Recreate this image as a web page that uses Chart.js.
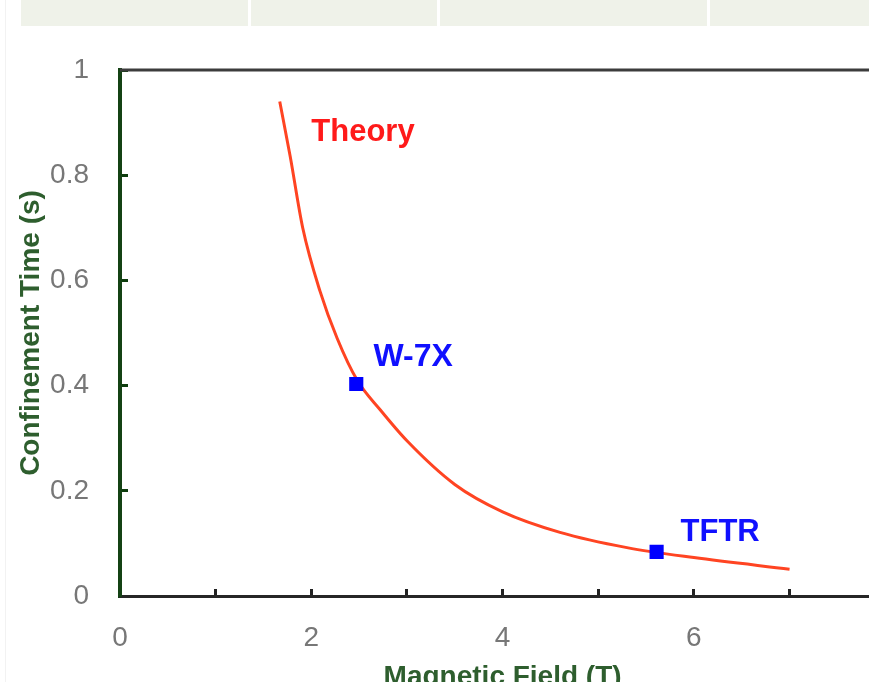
<!DOCTYPE html>
<html lang="en">
<head>
    <meta charset="UTF-8">
    <title>Confinement Time vs Magnetic Field</title>
    <script src="https://cdn.jsdelivr.net/npm/chart.js"></script>
    <style>
        html, body {
            margin: 0;
            padding: 0;
            width: 869px;
            height: 682px;
            overflow: hidden;
            background: #ffffff;
        }
        .edge {
            position: absolute;
            left: 5px; top: 0;
            width: 1px; height: 682px;
            background: #f2f2f2;
        }
        .band {
            position: absolute;
            top: 0;
            height: 26px;
            background: #eff2e9;
        }
        #wrap {
            position: absolute;
            left: 0; top: 0;
        }
    </style>
</head>
<body>
    <div class="edge"></div>
    <div class="band" style="left:21px;width:227px"></div>
    <div class="band" style="left:251px;width:186px"></div>
    <div class="band" style="left:440px;width:267px"></div>
    <div class="band" style="left:710px;width:159px"></div>

    <div id="wrap">
        <canvas id="chart" width="925" height="700"></canvas>
    </div>

    <script>
        // theory curve
        const theoryField = [1.67, 1.78, 1.91, 2.09, 2.27, 2.48, 2.72, 3.0, 3.5, 4.0, 4.6, 5.3, 6.0, 7.0];
        const theoryTime  = [0.94, 0.835, 0.70, 0.58, 0.49, 0.41, 0.354, 0.295, 0.212, 0.16, 0.121, 0.092, 0.073, 0.051];

        // measured machines
        const machineNames = ['W-7X', 'TFTR'];
        const machineField = [2.47, 5.61];
        const machineTime  = [0.403, 0.084];

        // text labels on the plot (data coordinates)
        const noteText  = ['Theory', 'W-7X', 'TFTR'];
        const noteField = [2.0, 2.65, 5.86];
        const noteTime  = [0.882, 0.454, 0.12];
        const noteColor = ['#ff1a1a', '#1010ff', '#1010ff'];

        const FONT = "'Liberation Sans', Arial, sans-serif";

        const notesPlugin = {
            id: 'notes',
            afterDatasetsDraw(chart) {
                const ctx = chart.ctx;
                const xs = chart.scales.x, ys = chart.scales.y;
                ctx.save();
                ctx.textBaseline = 'middle';
                ctx.textAlign = 'left';
                noteText.forEach((t, i) => {
                    ctx.font = 'bold ' + (i === 1 ? 32 : 31) + 'px ' + FONT;
                    ctx.fillStyle = noteColor[i];
                    ctx.fillText(t, xs.getPixelForValue(noteField[i]), ys.getPixelForValue(noteTime[i]));
                });
                ctx.restore();
            }
        };

        // top frame line of the plot area
        const frameTop = {
            id: 'frameTop',
            beforeDatasetsDraw(chart) {
                const a = chart.chartArea, ctx = chart.ctx;
                ctx.save();
                ctx.strokeStyle = '#3c3c3c';
                ctx.lineWidth = 3;
                ctx.beginPath();
                ctx.moveTo(a.left, a.top);
                ctx.lineTo(a.right, a.top);
                ctx.stroke();
                ctx.restore();
            }
        };

        const ctx = document.getElementById('chart').getContext('2d');
        new Chart(ctx, {
            type: 'scatter',
            data: {
                datasets: [
                    {
                        label: 'Machines',
                        data: machineField.map((x, i) => ({ x: x, y: machineTime[i] })),
                        pointStyle: 'rect',
                        pointRadius: 10,
                        pointBackgroundColor: '#0000ff',
                        pointBorderWidth: 0,
                        showLine: false
                    },
                    {
                        label: 'Theory',
                        data: theoryField.map((x, i) => ({ x: x, y: theoryTime[i] })),
                        showLine: true,
                        borderColor: '#ff4422',
                        borderWidth: 3,
                        pointRadius: 0,
                        cubicInterpolationMode: 'monotone',
                        fill: false
                    }
                ]
            },
            options: {
                responsive: false,
                animation: false,
                events: [],
                layout: { padding: { top: 70, right: 0, left: 0, bottom: 0 } },
                plugins: {
                    legend: { display: false },
                    tooltip: { enabled: false }
                },
                scales: {
                    x: {
                        type: 'linear',
                        min: 0,
                        max: 8,
                        afterFit: s => { s.height = 104; },
                        ticks: {
                            stepSize: 1,
                            color: '#777777',
                            font: { family: FONT, size: 28 },
                            padding: 32,
                            maxRotation: 0,
                            autoSkip: false,
                            callback: v => (v % 2 === 0 ? String(v) : '')
                        },
                        grid: {
                            drawOnChartArea: false,
                            tickLength: -7,
                            tickColor: '#222222',
                            tickWidth: 3
                        },
                        border: { color: '#262626', width: 3 },
                        title: {
                            display: true,
                            text: 'Magnetic Field (T)',
                            color: '#2e5e2e',
                            font: { family: FONT, size: 28, weight: 'bold' },
                            padding: { top: 2, bottom: 6 }
                        }
                    },
                    y: {
                        min: 0,
                        max: 1,
                        afterFit: s => { s.width = 120; },
                        ticks: {
                            stepSize: 0.2,
                            color: '#777777',
                            font: { family: FONT, size: 28 },
                            padding: 39,
                            callback: v => String(+v.toFixed(1))
                        },
                        grid: {
                            drawOnChartArea: false,
                            tickLength: -8,
                            tickColor: '#0d3d0d',
                            tickWidth: 3
                        },
                        border: { color: '#144214', width: 4 },
                        title: {
                            display: true,
                            text: 'Confinement Time (s)',
                            color: '#2e5e2e',
                            font: { family: FONT, size: 28, weight: 'bold' },
                            padding: { top: 14, bottom: 3 }
                        }
                    }
                }
            },
            plugins: [notesPlugin, frameTop]
        });
    </script>
</body>
</html>
